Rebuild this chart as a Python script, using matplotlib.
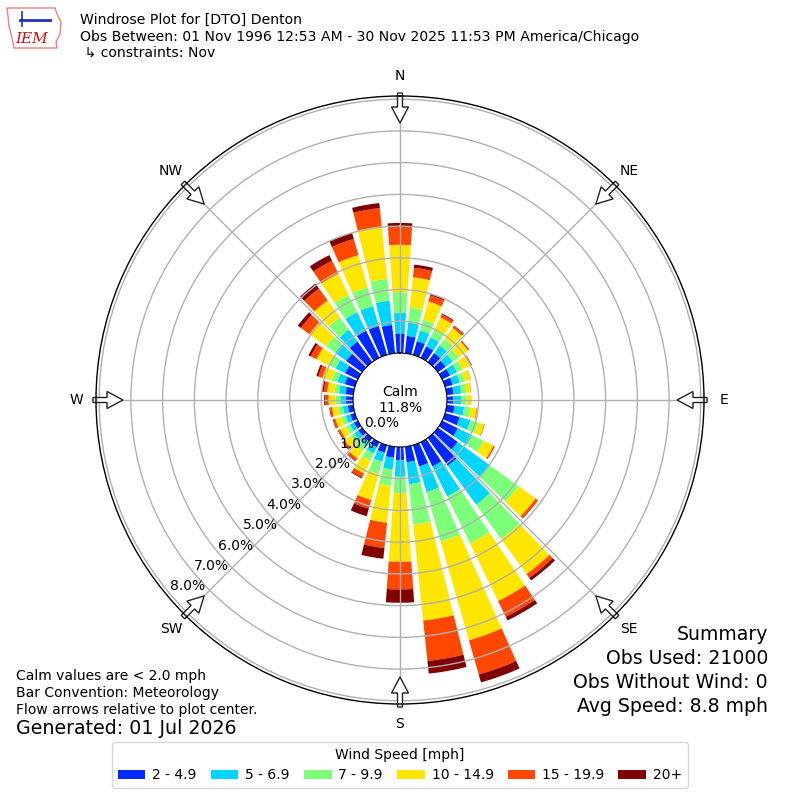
import numpy as np
import matplotlib
matplotlib.use("Agg")
import matplotlib.pyplot as plt
from matplotlib.patches import FancyArrow, Patch, Polygon

# ── data (percent of obs, per direction bin, per speed class) ──
directions = [0, 10, 20, 30, 40, 50, 60, 70, 80, 90, 100, 110,
              120, 130, 140, 150, 160, 170, 180, 190, 200, 210, 220, 230,
              240, 250, 260, 270, 280, 290, 300, 310, 320, 330, 340, 350]

speed_labels = ["2 - 4.9", "5 - 6.9", "7 - 9.9", "10 - 14.9", "15 - 19.9", "20+"]

pct_2_5 = [0.62, 0.55, 0.45, 0.40, 0.35, 0.30, 0.28, 0.25, 0.22, 0.20, 0.25, 0.48,
           0.55, 0.77, 1.08, 0.85, 0.70, 0.49, 0.41, 0.35, 0.25, 0.18, 0.15, 0.15,
           0.14, 0.15, 0.17, 0.22, 0.25, 0.33, 0.45, 0.62, 0.80, 0.95, 0.95, 0.90]
pct_5_7 = [0.64, 0.42, 0.35, 0.32, 0.30, 0.28, 0.24, 0.23, 0.24, 0.26, 0.30, 0.35,
           0.50, 1.26, 1.52, 1.05, 0.84, 0.70, 0.53, 0.37, 0.30, 0.22, 0.17, 0.15,
           0.14, 0.15, 0.16, 0.18, 0.20, 0.24, 0.33, 0.43, 0.46, 0.65, 0.65, 0.77]
pct_7_10 = [0.66, 0.48, 0.35, 0.26, 0.25, 0.22, 0.20, 0.17, 0.16, 0.16, 0.20, 0.26,
            0.40, 1.11, 1.34, 1.65, 1.62, 1.28, 0.52, 0.52, 0.40, 0.25, 0.18, 0.15,
            0.14, 0.14, 0.14, 0.15, 0.15, 0.19, 0.25, 0.35, 0.48, 0.60, 0.61, 0.69]
pct_10_15 = [1.49, 0.96, 0.60, 0.44, 0.43, 0.37, 0.28, 0.19, 0.15, 0.16, 0.20, 0.19,
             0.35, 0.66, 1.36, 2.02, 3.24, 3.04, 2.16, 1.17, 0.85, 0.45, 0.30, 0.23,
             0.20, 0.20, 0.20, 0.22, 0.23, 0.30, 0.42, 0.65, 0.66, 0.75, 1.06, 1.66]
pct_15_20 = [0.56, 0.30, 0.20, 0.10, 0.07, 0.04, 0.03, 0.01, 0.01, 0.00, 0.02, 0.02,
             0.05, 0.10, 0.15, 0.55, 1.12, 1.28, 0.87, 0.80, 0.28, 0.14, 0.09, 0.08,
             0.06, 0.07, 0.07, 0.10, 0.11, 0.14, 0.20, 0.33, 0.46, 0.45, 0.53, 0.58]
pct_20_up = [0.13, 0.10, 0.05, 0.03, 0.02, 0.01, 0.01, 0.00, 0.00, 0.00, 0.00, 0.00,
             0.00, 0.00, 0.10, 0.13, 0.26, 0.40, 0.42, 0.34, 0.25, 0.03, 0.02, 0.02,
             0.02, 0.02, 0.02, 0.04, 0.05, 0.06, 0.08, 0.12, 0.19, 0.20, 0.20, 0.16]

calm_pct = 11.8
ring_values = [0, 1, 2, 3, 4, 5, 6, 7, 8]
compass = ["N", "NE", "E", "SE", "S", "SW", "W", "NW"]

# ── figure ─────────────────────────────────────
fig = plt.figure(figsize=(8, 8), dpi=100, facecolor="white")
ax = fig.add_axes([0.12, 0.12, 0.76, 0.76], projection="polar")
ax.set_theta_zero_location("N")
ax.set_theta_direction(-1)

colors = plt.get_cmap("jet")(np.arange(1, 7) / 6.0)
series = [pct_2_5, pct_5_7, pct_7_10, pct_10_15, pct_15_20, pct_20_up]

theta = np.deg2rad(directions)
bottom = np.zeros(len(directions))
for vals, col, lab in zip(series, colors, speed_labels):
    vals = np.asarray(vals)
    ax.bar(theta, vals, width=np.deg2rad(8), bottom=bottom,
           color=col, linewidth=0, label=lab, zorder=1)
    bottom += vals

ax.set_ylim(0, 8.1)
ax.set_rorigin(-1.48)
ax.set_yticks(ring_values[1:])
ax.set_yticklabels([])
ax.set_xticks(np.deg2rad(np.arange(0, 360, 45)))
ax.set_xticklabels([])
ax.grid(True, color="#b0b0b0", linewidth=1)
ax.spines["polar"].set_color("black")
ax.spines["polar"].set_linewidth(1)

# radial labels along 230 deg
for rv in ring_values:
    ax.text(np.deg2rad(230), rv, f"{rv:.1f}%", ha="left", va="bottom",
            fontsize=10, zorder=5)

ax.text(0.5, 0.5, f"Calm\n{calm_pct:.1f}%", transform=ax.transAxes,
        ha="center", va="center", fontsize=10, zorder=5)

# compass labels + flow arrows
for i, name in enumerate(compass):
    ang = np.deg2rad(i * 45)
    ax.text(ang, 8.73, name, ha="center", va="center", fontsize=10)
    s, c = np.sin(ang), np.cos(ang)
    r0, r1 = 307 / 800, 277 / 800
    arr = FancyArrow(0.5 + r0 * s, 0.5 + r0 * c,
                     (r1 - r0) * s, (r1 - r0) * c,
                     width=5 / 800, head_width=17 / 800, head_length=16 / 800,
                     length_includes_head=True, transform=fig.transFigure,
                     facecolor="white", edgecolor="#222222", linewidth=1,
                     clip_on=False, zorder=2)
    ax.add_patch(arr)

# ── header ─────────────────────────────────────
fig.text(0.1, 1 - 20 / 800, "Windrose Plot for [DTO] Denton",
         ha="left", va="center", fontsize=10.1)
fig.text(0.1, 1 - 37 / 800,
         "Obs Between: 01 Nov 1996 12:53 AM - 30 Nov 2025 11:53 PM America/Chicago",
         ha="left", va="center", fontsize=10.1)
fig.text(0.1, 1 - 53 / 800, " \u21b3 constraints: Nov",
         ha="left", va="center", fontsize=10.1)

# logo (rough)
logo = Polygon([(7, 8), (55, 8), (57, 14), (61, 22), (60, 34), (56, 42),
                (57, 48), (14, 48), (12, 38), (9, 26), (8, 16)],
               closed=True, transform=fig.transFigure, fill=False,
               edgecolor="#f08080", linewidth=1)
logo.set_xy(np.array(logo.get_xy()) * [1 / 800, -1 / 800] + [0, 1])
fig.add_artist(logo)
fig.text(32 / 800, 1 - 39 / 800, "IEM", ha="center", va="center",
         fontsize=11, color="#d01010", style="italic", family="serif")
fig.add_artist(plt.Line2D([20 / 800, 50 / 800], [1 - 20 / 800, 1 - 20 / 800],
                          color="#2030c0", linewidth=2))
fig.add_artist(plt.Line2D([22 / 800, 22 / 800], [1 - 12 / 800, 1 - 26 / 800],
                          color="#2030c0", linewidth=1.2))

# ── summary / notes ────────────────────────────
summary = ["Summary", "Obs Used: 21000", "Obs Without Wind: 0", "Avg Speed: 8.8 mph"]
for k, line in enumerate(summary):
    fig.text(768 / 800, 1 - (635 + 23.7 * k) / 800, line,
             ha="right", va="center", fontsize=13.6)

notes = ["Calm values are < 2.0 mph", "Bar Convention: Meteorology",
         "Flow arrows relative to plot center."]
for k, line in enumerate(notes):
    fig.text(16 / 800, 1 - (676 + 17 * k) / 800, line,
             ha="left", va="center", fontsize=10)
fig.text(16 / 800, 1 - 729 / 800, "Generated: 01 Jul 2026",
         ha="left", va="center", fontsize=13.7)

handles = [Patch(facecolor=c, edgecolor="none") for c in colors]
fig.legend(handles, speed_labels, loc="center", bbox_to_anchor=(0.5, 1 - 765 / 800),
           ncol=6, title="Wind Speed [mph]", fontsize=10, title_fontsize=10,
           handlelength=2.0, handleheight=0.7, columnspacing=1.0,
           handletextpad=0.5, frameon=True, edgecolor="#cccccc")

fig.savefig("out.png", dpi=100, facecolor="white")
